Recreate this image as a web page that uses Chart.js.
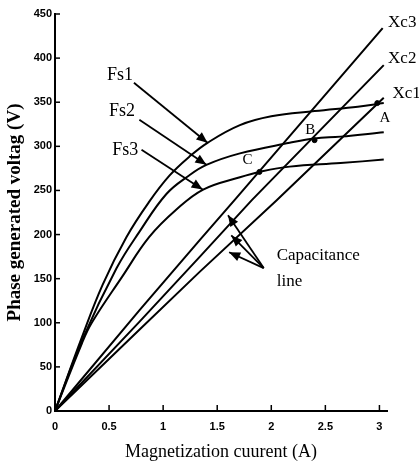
<!DOCTYPE html>
<html>
<head>
<meta charset="utf-8">
<script src="https://cdn.jsdelivr.net/npm/chart.js@4.4.1/dist/chart.umd.min.js"></script>
<style>
  html, body { margin: 0; padding: 0; background: #fff; }
  #wrap { width: 419px; height: 471px; }
</style>
</head>
<body>
<div id="wrap"><canvas id="myChart" width="419" height="471"></canvas></div>
<script>
// magnetization current (A) and phase voltage (V)
const fs1I = [0, 0.25, 0.44, 0.66, 0.87, 1.06, 1.24, 1.41, 1.71, 2.0, 2.4, 2.8, 3.04];
const fs1V = [0, 84, 143, 197, 237, 267, 288, 304, 324, 334, 340, 345, 349];

const fs2I = [0, 0.25, 0.57, 0.78, 1.03, 1.24, 1.40, 1.71, 2.17, 2.4, 2.64, 3.04];
const fs2V = [0, 80, 162, 203, 246, 267, 279, 292, 304, 309, 311, 316];

const fs3I = [0, 0.25, 0.34, 0.62, 0.87, 1.12, 1.37, 1.71, 1.89, 2.17, 2.64, 3.04];
const fs3V = [0, 77, 100, 152, 197, 228, 251, 265, 271, 277, 281, 285];

const xc3I = [0, 0.78, 1.34, 1.66, 3.03];
const xc3V = [0, 114, 194, 239, 434];
const xc2I = [0, 0.78, 1.34, 1.82, 3.04];
const xc2V = [0, 101, 175, 239, 392];
const xc1I = [0, 0.78, 1.34, 2.05, 3.04];
const xc1V = [0, 92, 158, 239, 355];

// operating points A, B, C
const opI = [2.98, 2.40, 1.89];
const opV = [349, 307, 271];

const xTicks = [0, 0.5, 1, 1.5, 2, 2.5, 3];
const xTickLabels = ['0', '0.5', '1', '1.5', '2', '2.5', '3'];
const yTicks = [0, 50, 100, 150, 200, 250, 300, 350, 400, 450];

const pts = (xs, ys) => xs.map((x, i) => ({ x: x, y: ys[i] }));

const curve = (label, xs, ys, smooth) => ({
  label: label,
  data: pts(xs, ys),
  showLine: true,
  borderColor: '#000',
  borderWidth: 2,
  pointRadius: 0,
  fill: false,
  tension: smooth ? 0.4 : 0
});

// text and arrows, placed in data units
const notes = [
  { t: 'Fs1', x: 0.48, y: 381, font: '18px "Liberation Serif"', align: 'left' },
  { t: 'Fs2', x: 0.50, y: 340, font: '18px "Liberation Serif"', align: 'left' },
  { t: 'Fs3', x: 0.53, y: 296, font: '18px "Liberation Serif"', align: 'left' },
  { t: 'Xc3', x: 3.08, y: 440, font: '17px "Liberation Serif"', align: 'left' },
  { t: 'Xc2', x: 3.08, y: 400, font: '17px "Liberation Serif"', align: 'left' },
  { t: 'Xc1', x: 3.12, y: 360, font: '17px "Liberation Serif"', align: 'left' },
  { t: 'A', x: 3.05, y: 332, font: '15px "Liberation Serif"', align: 'center' },
  { t: 'B', x: 2.36, y: 318, font: '15px "Liberation Serif"', align: 'center' },
  { t: 'C', x: 1.78, y: 284, font: '15px "Liberation Serif"', align: 'center' },
  { t: 'Capacitance', x: 2.05, y: 176, font: '17px "Liberation Serif"', align: 'left' },
  { t: 'line', x: 2.05, y: 147, font: '17px "Liberation Serif"', align: 'left' }
];
const arrows = [
  [0.73, 372, 1.41, 304],
  [0.78, 330, 1.40, 279],
  [0.80, 296, 1.365, 251],
  [1.93, 162, 1.60, 222],
  [1.93, 162, 1.63, 199],
  [1.93, 162, 1.61, 180]
];

const notesPlugin = {
  id: 'notes',
  afterDraw(chart) {
    const c = chart.ctx, xs = chart.scales.x, ys = chart.scales.y;
    c.save();
    c.fillStyle = '#000';
    c.strokeStyle = '#000';
    // inward ticks
    c.lineWidth = 1.5;
    xTicks.forEach(v => {
      const px = xs.getPixelForValue(v);
      c.beginPath(); c.moveTo(px, ys.bottom); c.lineTo(px, ys.bottom - 6); c.stroke();
    });
    yTicks.forEach(v => {
      const py = ys.getPixelForValue(v);
      c.beginPath(); c.moveTo(xs.left, py); c.lineTo(xs.left + 5, py); c.stroke();
    });
    c.textBaseline = 'middle';
    notes.forEach(n => {
      c.font = n.font;
      c.textAlign = n.align;
      c.fillText(n.t, xs.getPixelForValue(n.x), ys.getPixelForValue(n.y));
    });
    c.lineWidth = 1.8;
    arrows.forEach(a => {
      const x0 = xs.getPixelForValue(a[0]), y0 = ys.getPixelForValue(a[1]);
      const x1 = xs.getPixelForValue(a[2]), y1 = ys.getPixelForValue(a[3]);
      const ang = Math.atan2(y1 - y0, x1 - x0);
      c.beginPath(); c.moveTo(x0, y0); c.lineTo(x1, y1); c.stroke();
      c.beginPath();
      c.moveTo(x1, y1);
      c.lineTo(x1 - 12 * Math.cos(ang - 0.4), y1 - 12 * Math.sin(ang - 0.4));
      c.lineTo(x1 - 12 * Math.cos(ang + 0.4), y1 - 12 * Math.sin(ang + 0.4));
      c.closePath();
      c.fill();
    });
    c.restore();
  }
};

const ctx = document.getElementById('myChart').getContext('2d');
window.myChart = new Chart(ctx, {
  type: 'scatter',
  data: {
    datasets: [
      curve('Fs1', fs1I, fs1V, true),
      curve('Fs2', fs2I, fs2V, true),
      curve('Fs3', fs3I, fs3V, true),
      curve('Xc3', xc3I, xc3V, false),
      curve('Xc2', xc2I, xc2V, false),
      curve('Xc1', xc1I, xc1V, false),
      {
        label: 'points',
        data: pts(opI, opV),
        showLine: false,
        pointRadius: 2.5,
        pointBackgroundColor: '#000',
        pointBorderColor: '#000'
      }
    ]
  },
  options: {
    responsive: false,
    animation: false,
    clip: false,
    layout: { padding: { top: 14, right: 32, left: 0, bottom: 0 } },
    plugins: {
      legend: { display: false },
      tooltip: { enabled: false }
    },
    scales: {
      x: {
        type: 'linear',
        min: 0,
        max: 3.07,
        afterFit: s => { s.height = 60; },
        afterBuildTicks: s => { s.ticks = xTicks.map(v => ({ value: v })); },
        grid: { display: true, drawOnChartArea: false, drawTicks: false },
        border: { display: true, color: '#000', width: 2 },
        ticks: {
          color: '#000',
          padding: 9,
          autoSkip: false,
          maxRotation: 0,
          font: { family: '"Liberation Sans Narrow", "Liberation Sans", sans-serif', size: 11, weight: 'bold' },
          callback: (v) => xTickLabels[xTicks.indexOf(v)]
        },
        title: {
          display: true,
          text: 'Magnetization cuurent (A)',
          color: '#000',
          padding: { top: 0, bottom: 8 },
          font: { family: '"Liberation Serif", serif', size: 18 }
        }
      },
      y: {
        type: 'linear',
        min: 0,
        max: 450,
        afterFit: s => { s.width = 55; },
        afterBuildTicks: s => { s.ticks = yTicks.map(v => ({ value: v })); },
        grid: { display: true, drawOnChartArea: false, drawTicks: false },
        border: { display: true, color: '#000', width: 2 },
        ticks: {
          color: '#000',
          padding: 3,
          autoSkip: false,
          font: { family: '"Liberation Sans Narrow", "Liberation Sans", sans-serif', size: 11, weight: 'bold' }
        },
        title: {
          display: true,
          text: 'Phase generated voltag (V)',
          color: '#000',
          padding: { top: 4, bottom: 0 },
          font: { family: '"Liberation Serif", serif', size: 19, weight: 'bold' }
        }
      }
    }
  },
  plugins: [notesPlugin]
});
</script>
</body>
</html>
